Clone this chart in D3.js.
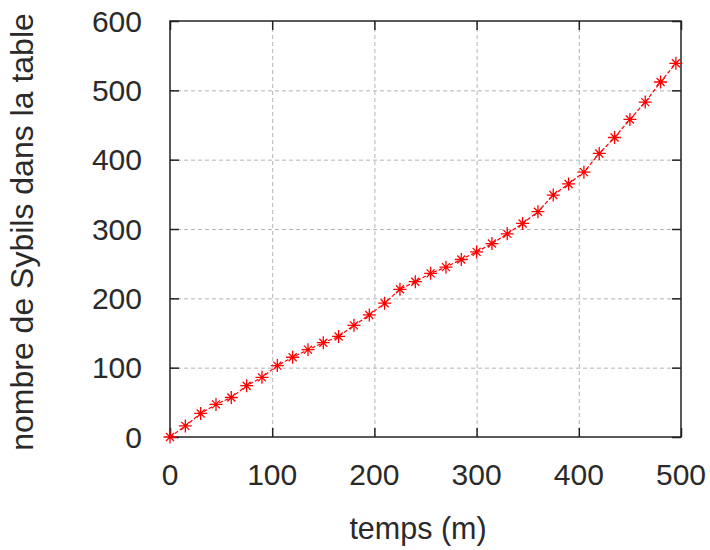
<!DOCTYPE html>
<html lang="fr">
  <head>
    <meta charset="UTF-8" />
    <title>Sybils</title>
    <style>
      body { margin: 0; background: #fff; }
      text { font-family: "Liberation Sans", Arial, sans-serif; fill: #2a2a2a; }
    </style>
  </head>
  <body>
    <svg id="svg" width="710" height="550"></svg>

    <script src="https://cdn.jsdelivr.net/npm/d3@7"></script>
    <script>
      const WIDTH = 710;
      const HEIGHT = 550;
      const LEFT = 170;
      const RIGHT = 681;
      const TOP = 21;
      const BOTTOM = 437;

      // time in minutes
      const temps = [
        0, 15, 30, 45, 60, 75, 90, 105, 120, 135, 150, 165, 180, 195, 210, 225,
        240, 255, 270, 285, 300, 315, 330, 345, 360, 375, 390, 405, 420, 435,
        450, 465, 480, 495,
      ];
      // number of Sybils in the table
      const sybils = [
        0, 16, 34, 47, 57, 74, 86, 103, 115, 126, 136, 145, 161, 176, 193, 213,
        224, 236, 245, 256, 267, 279, 293, 308, 325, 349, 365, 382, 409, 432,
        458, 483, 512, 539,
      ];
      const xTicks = [0, 100, 200, 300, 400, 500];
      const yTicks = [0, 100, 200, 300, 400, 500, 600];

      const points = temps.map((t, i) => ({ t: t, n: sybils[i] }));

      const x = d3.scaleLinear().domain([0, 500]).range([LEFT, RIGHT]);
      const y = d3.scaleLinear().domain([0, 600]).range([BOTTOM, TOP]);

      const svg = d3.select("#svg");

      // grid
      const grid = svg.append("g")
        .attr("stroke", "#b4b4b4")
        .attr("stroke-width", 1)
        .attr("stroke-dasharray", "4,3");
      grid.selectAll(".gx")
        .data(xTicks.slice(1, -1))
        .join("line")
        .attr("x1", (d) => x(d) + 0.5)
        .attr("x2", (d) => x(d) + 0.5)
        .attr("y1", TOP)
        .attr("y2", BOTTOM);
      grid.selectAll(".gy")
        .data(yTicks.slice(1, -1))
        .join("line")
        .attr("y1", (d) => y(d) + 0.5)
        .attr("y2", (d) => y(d) + 0.5)
        .attr("x1", LEFT)
        .attr("x2", RIGHT);

      // axes with inward ticks, mirrored on top and right
      const tickLen = 9;
      const axisStyle = (g) => {
        g.select(".domain").remove();
        g.selectAll(".tick line").attr("stroke", "#222").attr("stroke-width", 1.5);
      };
      svg.append("g")
        .attr("transform", `translate(0,${BOTTOM})`)
        .call(d3.axisBottom(x).tickValues(xTicks).tickSize(-tickLen).tickFormat(""))
        .call(axisStyle);
      svg.append("g")
        .attr("transform", `translate(0,${TOP})`)
        .call(d3.axisTop(x).tickValues(xTicks).tickSize(-tickLen).tickFormat(""))
        .call(axisStyle);
      svg.append("g")
        .attr("transform", `translate(${LEFT},0)`)
        .call(d3.axisLeft(y).tickValues(yTicks).tickSize(-tickLen).tickFormat(""))
        .call(axisStyle);
      svg.append("g")
        .attr("transform", `translate(${RIGHT},0)`)
        .call(d3.axisRight(y).tickValues(yTicks).tickSize(-tickLen).tickFormat(""))
        .call(axisStyle);

      // tick labels
      svg.append("g")
        .selectAll("text")
        .data(xTicks)
        .join("text")
        .attr("x", (d) => x(d))
        .attr("y", 485)
        .attr("text-anchor", "middle")
        .attr("font-size", 30)
        .text((d) => d);
      svg.append("g")
        .selectAll("text")
        .data(yTicks)
        .join("text")
        .attr("x", 142)
        .attr("y", (d) => y(d))
        .attr("dy", "0.36em")
        .attr("text-anchor", "end")
        .attr("font-size", 30)
        .text((d) => d);

      // frame
      svg.append("rect")
        .attr("x", LEFT)
        .attr("y", TOP)
        .attr("width", RIGHT - LEFT)
        .attr("height", BOTTOM - TOP)
        .attr("fill", "none")
        .attr("stroke", "#222")
        .attr("stroke-width", 1.5);

      // axis titles
      svg.append("text")
        .attr("x", 418)
        .attr("y", 539)
        .attr("text-anchor", "middle")
        .attr("font-size", 30.5)
        .text("temps (m)");
      svg.append("text")
        .attr("transform", "translate(33,232) rotate(-90)")
        .attr("text-anchor", "middle")
        .attr("font-size", 32)
        .text("nombre de Sybils dans la table");

      // the series
      const line = d3.line()
        .x((d) => x(d.t))
        .y((d) => y(d.n));
      svg.append("path")
        .attr("d", line(points))
        .attr("fill", "none")
        .attr("stroke", "#ff0000")
        .attr("stroke-width", 1.2)
        .attr("stroke-dasharray", "4,2");

      const s = 6.5;
      const c = 4;
      svg.append("g")
        .attr("stroke", "#ff0000")
        .attr("stroke-width", 1.3)
        .selectAll("path")
        .data(points)
        .join("path")
        .attr("transform", (d) => `translate(${x(d.t)},${y(d.n)})`)
        .attr("d", `M${-s},0H${s}M0,${-s}V${s}M${-c},${-c}L${c},${c}M${-c},${c}L${c},${-c}`);
    </script>
  </body>
</html>
